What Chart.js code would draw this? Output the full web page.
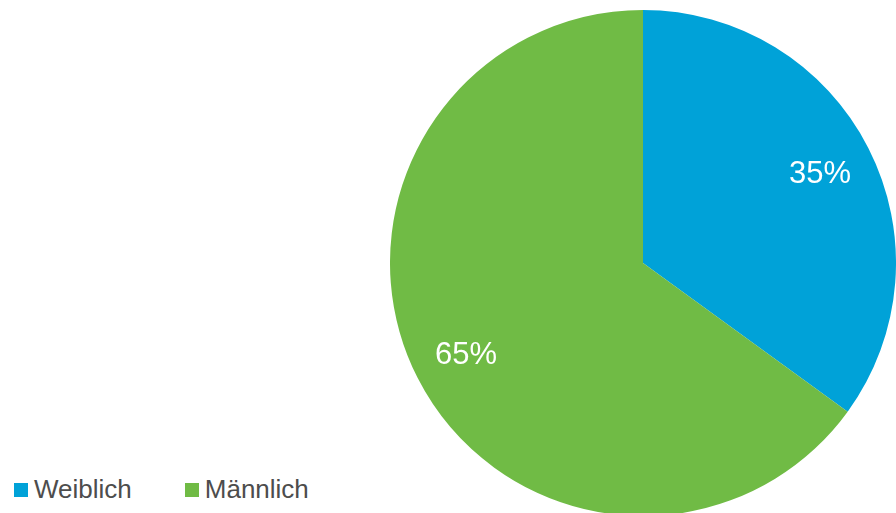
<!DOCTYPE html>
<html>
<head>
<meta charset="utf-8">
<script src="https://cdn.jsdelivr.net/npm/chart.js@4"></script>
<style>
  html, body { margin: 0; padding: 0; background: #fff; overflow: hidden; }
  body { width: 896px; height: 513px; position: relative; font-family: "Liberation Sans", Arial, sans-serif; }
  #wrap { position: absolute; left: 390px; top: 10px; width: 506px; height: 506px; }
  #legend { position: absolute; left: 14px; top: 474px; font-size: 26px; color: #4d4d4d; display: flex; }
  #legend .item { display: flex; align-items: center; margin-right: 53px; }
  #legend .box { width: 14px; height: 14px; margin-right: 6px; }
</style>
</head>
<body>
<div id="wrap"><canvas id="pie-chart" width="506" height="506"></canvas></div>
<div id="legend"></div>
<script>
// categorie e valori (percentuali)
const labels = ['Weiblich', 'Männlich'];
const values = [35, 65];
const colors = ['#00A2D8', '#70BB45'];

// scrive le percentuali dentro le fette
const sliceLabels = {
  id: 'sliceLabels',
  afterDatasetsDraw(chart) {
    const ctx = chart.ctx;
    const meta = chart.getDatasetMeta(0);
    const total = values.reduce((a, b) => a + b, 0);
    ctx.save();
    ctx.fillStyle = '#ffffff';
    ctx.font = '31px "Liberation Sans", Arial, sans-serif';
    ctx.textAlign = 'center';
    ctx.textBaseline = 'middle';
    meta.data.forEach((arc, i) => {
      const p = arc.getProps(['x', 'y', 'startAngle', 'endAngle', 'outerRadius'], true);
      const mid = (p.startAngle + p.endAngle) / 2;
      const r = p.outerRadius * 0.785;
      const pct = Math.round(values[i] / total * 100);
      ctx.fillText(pct + '%', p.x + Math.cos(mid) * r, p.y + Math.sin(mid) * r + 2);
    });
    ctx.restore();
  }
};

var ctx = document.getElementById('pie-chart').getContext('2d');
var pieChart = new Chart(ctx, {
  type: 'pie',
  data: {
    labels: labels,
    datasets: [{
      data: values,
      backgroundColor: colors,
      borderWidth: 0
    }]
  },
  options: {
    responsive: false,
    animation: false,
    layout: { padding: 0 },
    plugins: {
      legend: { display: false },
      tooltip: { enabled: false }
    }
  },
  plugins: [sliceLabels]
});

// legenda in basso a sinistra
const legend = document.getElementById('legend');
labels.forEach((l, i) => {
  const item = document.createElement('div');
  item.className = 'item';
  item.innerHTML = `<span class="box" style="background:${colors[i]}"></span><span>${l}</span>`;
  legend.appendChild(item);
});
</script>
</body>
</html>
